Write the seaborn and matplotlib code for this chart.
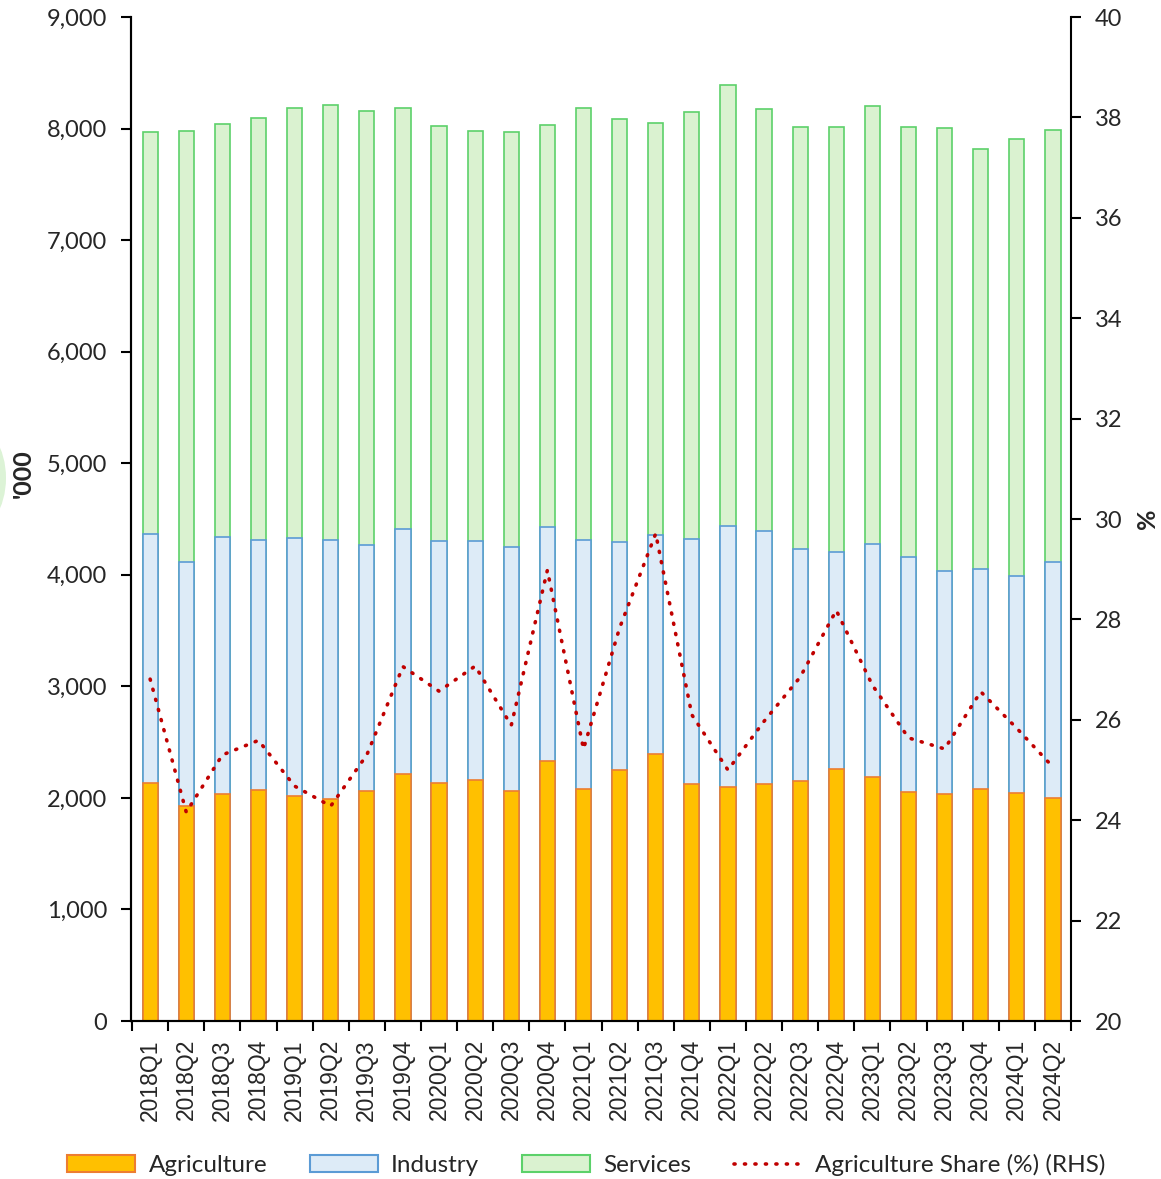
import numpy as np
import pandas as pd
import matplotlib
matplotlib.use("Agg")
import matplotlib.pyplot as plt
import matplotlib.patches as mpatches
from matplotlib.lines import Line2D
from matplotlib.ticker import FuncFormatter, MultipleLocator
import seaborn as sns

quarters = ["2018Q1", "2018Q2", "2018Q3", "2018Q4", "2019Q1", "2019Q2", "2019Q3", "2019Q4",
            "2020Q1", "2020Q2", "2020Q3", "2020Q4", "2021Q1", "2021Q2", "2021Q3", "2021Q4",
            "2022Q1", "2022Q2", "2022Q3", "2022Q4", "2023Q1", "2023Q2", "2023Q3", "2023Q4",
            "2024Q1", "2024Q2"]
agriculture = [2136, 1927, 2035, 2071, 2020, 1993, 2064, 2214, 2131, 2160, 2064, 2328, 2080,
               2250, 2391, 2127, 2098, 2124, 2151, 2259, 2190, 2055, 2035, 2077, 2041, 2002]
industry = [2227, 2187, 2306, 2238, 2310, 2319, 2206, 2196, 2172, 2145, 2188, 2103, 2232,
            2041, 1968, 2196, 2342, 2268, 2077, 1948, 2088, 2107, 1999, 1975, 1948, 2112]
services = [3603, 3861, 3702, 3783, 3854, 3896, 3887, 3771, 3717, 3673, 3719, 3603, 3869,
            3794, 3688, 3825, 3953, 3786, 3783, 3809, 3927, 3854, 3973, 3767, 3914, 3875]
agri_share = [26.81, 24.16, 25.30, 25.59, 24.68, 24.28, 25.30, 27.06, 26.57, 27.07, 25.89,
              28.98, 25.42, 27.83, 29.71, 26.10, 25.00, 25.97, 26.85, 28.18, 26.69, 25.64,
              25.42, 26.56, 25.83, 25.06]

df = pd.DataFrame({"quarter": quarters, "Agriculture": agriculture,
                   "Industry": industry, "Services": services, "share": agri_share})
df["ind_top"] = df["Agriculture"] + df["Industry"]
df["total"] = df["ind_top"] + df["Services"]
df["pos"] = np.arange(len(df))

sns.set_style("ticks")
plt.rcParams["font.family"] = ["Lato", "DejaVu Sans"]

AG_FACE, AG_EDGE = "#FFC000", "#ED7D31"
IN_FACE, IN_EDGE = "#DDEBF7", "#5B9BD5"
SE_FACE, SE_EDGE = "#DAF2D0", "#5CD16A"
LINE_C = "#C00000"
DOTS = (0, (0.3, 2.6))

fig = plt.figure(figsize=(11.61, 11.79), dpi=100)
ax = fig.add_axes([131/1161, 1-1021/1179, 940/1161, 1004/1179])

bw = 0.42
sns.barplot(data=df, x="quarter", y="total", color=SE_FACE, edgecolor=SE_EDGE,
            linewidth=1.2, width=bw, saturation=1, ax=ax)
sns.barplot(data=df, x="quarter", y="ind_top", color=IN_FACE, edgecolor=IN_EDGE,
            linewidth=1.2, width=bw, saturation=1, ax=ax)
sns.barplot(data=df, x="quarter", y="Agriculture", color=AG_FACE, edgecolor=AG_EDGE,
            linewidth=1.2, width=bw, saturation=1, ax=ax)

ax.set_ylim(0, 9000)
ax.set_xlim(-0.53, len(df) - 0.5)
ax.yaxis.set_major_locator(MultipleLocator(1000))
ax.yaxis.set_major_formatter(FuncFormatter(lambda v, p: f"{int(v):,}"))
ax.set_xlabel("")
ax.set_ylabel("'000", fontsize=18, fontweight="bold")
ax.yaxis.set_label_coords(-0.102, 0.545)

ax.set_xticks(df["pos"])
ax.set_xticklabels(quarters, rotation=90, fontsize=16.5, family=["Liberation Sans"])
ax.tick_params(axis="x", which="major", length=0, pad=13)
ax.set_xticks(np.arange(-0.5, len(df), 1), minor=True)
ax.tick_params(axis="x", which="minor", length=7, width=1.5, direction="out", color="black")
ax.tick_params(axis="y", which="major", length=7, width=1.5, direction="out",
               labelsize=17, pad=10, color="black")

ax2 = ax.twinx()
sns.lineplot(data=df, x="pos", y="share", ax=ax2, color=LINE_C, linewidth=2.6,
             linestyle=DOTS, dash_capstyle="round")
ax2.set_ylim(20, 40)
ax2.yaxis.set_major_locator(MultipleLocator(2))
ax2.set_ylabel("%", fontsize=18, fontweight="bold")
ax2.yaxis.set_label_coords(1.069, 0.5)
ax2.set_xlabel("")
ax2.tick_params(axis="y", length=7, width=1.5, direction="out", labelsize=17, pad=10,
                color="black")
ax2.set_xlim(ax.get_xlim())

for a in (ax, ax2):
    a.spines["top"].set_visible(False)
    for s in ("left", "right", "bottom"):
        a.spines[s].set_linewidth(1.5)
        a.spines[s].set_color("black")
ax.spines["right"].set_visible(False)

# decorative artifact at the left edge
fig.patches.append(mpatches.Ellipse((-30/1161, 1-478/1179), 72/1161, 110/1179,
                                    transform=fig.transFigure, facecolor="#DCF3D6",
                                    edgecolor="none", zorder=0))

handles = [
    mpatches.Patch(facecolor=AG_FACE, edgecolor=AG_EDGE, linewidth=1.5, label="Agriculture"),
    mpatches.Patch(facecolor=IN_FACE, edgecolor=IN_EDGE, linewidth=1.5, label="Industry"),
    mpatches.Patch(facecolor=SE_FACE, edgecolor=SE_EDGE, linewidth=1.5, label="Services"),
    Line2D([0], [0], color=LINE_C, linewidth=2.6, linestyle=DOTS,
           dash_capstyle="round", label="Agriculture Share (%) (RHS)"),
]
fig.legend(handles=handles, loc="center", bbox_to_anchor=(0.505, 1-1165/1179), ncol=4,
           frameon=False, fontsize=17.5, handlelength=2.8, handletextpad=0.55,
           columnspacing=1.75, handleheight=0.68)

fig.savefig("out.png", dpi=100)
